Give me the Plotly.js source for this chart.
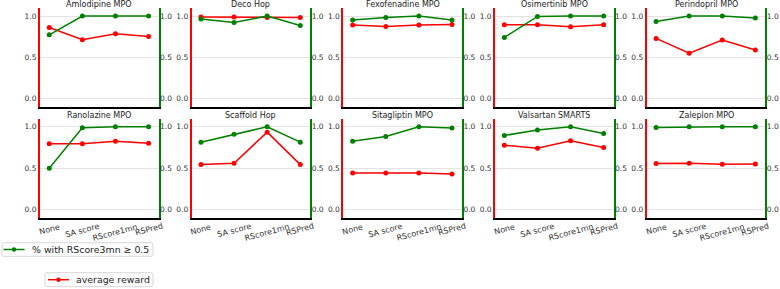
<!DOCTYPE html>
<html><head><meta charset="utf-8">
<script src="https://cdn.plot.ly/plotly-3.0.1.min.js"></script>
<style>html,body{margin:0;padding:0;background:#fff}#chart{width:780px;height:289px}</style>
</head><body><div id="chart"></div>
<script>
const categories = ['None', 'SA score', 'RScore1mn', 'RSPred'];
const yTickVals = [0, 0.5, 1.0];
const yTickText = ['0.0', '0.5', '1.0'];
const panelTitles = ['Amlodipine MPO', 'Deco Hop', 'Fexofenadine MPO', 'Osimertinib MPO', 'Perindopril MPO',
                     'Ranolazine MPO', 'Scaffold Hop', 'Sitagliptin MPO', 'Valsartan SMARTS', 'Zaleplon MPO'];
const pctName = '% with RScore3mn ≥ 0.5';
const rewardName = 'average reward';

// % with RScore3mn >= 0.5 (green, right axis)
const amlodipinePct   = [0.774, 1.0, 1.0, 1.0];
const decoHopPct      = [0.964, 0.923, 1.0, 0.887];
const fexofenadinePct = [0.952, 0.984, 1.0, 0.952];
const osimertinibPct  = [0.742, 0.995, 1.0, 1.0];
const perindoprilPct  = [0.935, 1.0, 1.0, 0.976];
const ranolazinePct   = [0.498, 0.988, 1.0, 1.0];
const scaffoldHopPct  = [0.814, 0.911, 1.0, 0.814];
const sitagliptinPct  = [0.826, 0.883, 1.0, 0.984];
const valsartanPct    = [0.895, 0.960, 1.0, 0.919];
const zaleplonPct     = [0.992, 1.0, 1.0, 1.0];

// average reward (red, left axis)
const amlodipineReward   = [0.862, 0.713, 0.786, 0.753];
const decoHopReward      = [0.988, 0.988, 0.984, 0.984];
const fexofenadineReward = [0.891, 0.875, 0.891, 0.899];
const osimertinibReward  = [0.895, 0.895, 0.872, 0.895];
const perindoprilReward  = [0.730, 0.552, 0.710, 0.589];
const ranolazineReward   = [0.794, 0.794, 0.826, 0.802];
const scaffoldHopReward  = [0.543, 0.559, 0.935, 0.543];
const sitagliptinReward  = [0.441, 0.441, 0.441, 0.429];
const valsartanReward    = [0.777, 0.741, 0.830, 0.749];
const zaleplonReward     = [0.555, 0.559, 0.547, 0.551];

const pctSeries = [amlodipinePct, decoHopPct, fexofenadinePct, osimertinibPct, perindoprilPct,
                   ranolazinePct, scaffoldHopPct, sitagliptinPct, valsartanPct, zaleplonPct];
const rewardSeries = [amlodipineReward, decoHopReward, fexofenadineReward, osimertinibReward, perindoprilReward,
                      ranolazineReward, scaffoldHopReward, sitagliptinReward, valsartanReward, zaleplonReward];

const W = 780, H = 289;
const GREEN = '#008000', RED = '#ff0000';
const colLeft = c => 40 + c * 151.7;
const plotW = 118.5;
const rowTop = [7.8, 118.5];
const plotH = 99.3;
const px2x = p => p / W;
const px2y = p => 1 - p / H;

const data = [];
const layout = {
  width: W, height: H,
  margin: {l: 0, r: 0, t: 0, b: 0, autoexpand: false},
  paper_bgcolor: '#fff', plot_bgcolor: '#fff',
  font: {family: 'DejaVu Sans', size: 7.5, color: '#333'},
  showlegend: false,
  annotations: [],
  shapes: []
};

for (let i = 0; i < 10; i++) {
  const row = i < 5 ? 0 : 1, col = i % 5;
  const xn = i + 1, yl = i + 1, yr = i + 11;
  const xk = xn === 1 ? 'x' : 'x' + xn;
  const ylk = yl === 1 ? 'y' : 'y' + yl;
  const yrk = 'y' + yr;
  const x0 = px2x(colLeft(col)), x1 = px2x(colLeft(col) + plotW);
  const yTopPx = rowTop[row], yBotPx = rowTop[row] + plotH;
  const d0 = px2y(yBotPx), d1 = px2y(yTopPx);

  layout['xaxis' + (xn === 1 ? '' : xn)] = {
    domain: [x0, x1], anchor: ylk, type: 'category', range: [-0.28, 3.3],
    showline: true, linecolor: '#000', linewidth: 2, showgrid: false,
    zeroline: false, showticklabels: false, ticks: '', fixedrange: true
  };
  layout['yaxis' + (yl === 1 ? '' : yl)] = {
    domain: [d0, d1], anchor: xk, range: [-0.1, 1.1],
    tickvals: yTickVals, ticktext: yTickText, tickfont: {size: 7.5, color: '#333'},
    ticks: '', showline: true, linecolor: RED, linewidth: 2,
    showgrid: true, gridcolor: '#e3e3e3', gridwidth: 1, zeroline: false
  };
  layout['yaxis' + yr] = {
    overlaying: ylk, anchor: xk, side: 'right', range: [-0.1, 1.1],
    tickvals: yTickVals, ticktext: yTickText, tickfont: {size: 7.5, color: '#333'},
    ticks: '', ticklabelstandoff: -2, showline: true, linecolor: GREEN, linewidth: 2,
    showgrid: false, zeroline: false
  };

  data.push({
    type: 'scatter', mode: 'lines+markers', x: categories, y: rewardSeries[i],
    xaxis: xk, yaxis: ylk, name: rewardName,
    line: {color: RED, width: 1.5}, marker: {color: RED, size: 5}
  });
  data.push({
    type: 'scatter', mode: 'lines+markers', x: categories, y: pctSeries[i],
    xaxis: xk, yaxis: yrk, name: pctName,
    line: {color: GREEN, width: 1.5}, marker: {color: GREEN, size: 5}
  });

  layout.annotations.push({
    text: panelTitles[i], xref: 'paper', yref: 'paper',
    x: (x0 + x1) / 2, y: px2y(yTopPx - 3.4), xanchor: 'center', yanchor: 'middle',
    showarrow: false, font: {size: 8, color: '#222'}, borderpad: 0
  });

  if (row === 1) {
    categories.forEach((c, j) => {
      layout.annotations.push({
        text: c, xref: xk, yref: 'paper', x: j, y: px2y(yBotPx + 3),
        xanchor: 'center', yanchor: 'top', textangle: -15, borderpad: 0,
        showarrow: false, font: {size: 8, color: '#333'}
      });
    });
  }
}

// Two separate legend boxes (as in the reference)
function roundRect(xa, ya, xb, yb, r) {
  const X = v => px2x(v), Y = v => px2y(v);
  return {
    type: 'path', xref: 'paper', yref: 'paper',
    path: `M ${X(xa + r)} ${Y(ya)} L ${X(xb - r)} ${Y(ya)} Q ${X(xb)} ${Y(ya)} ${X(xb)} ${Y(ya + r)} ` +
          `L ${X(xb)} ${Y(yb - r)} Q ${X(xb)} ${Y(yb)} ${X(xb - r)} ${Y(yb)} L ${X(xa + r)} ${Y(yb)} ` +
          `Q ${X(xa)} ${Y(yb)} ${X(xa)} ${Y(yb - r)} L ${X(xa)} ${Y(ya + r)} Q ${X(xa)} ${Y(ya)} ${X(xa + r)} ${Y(ya)} Z`,
    line: {color: '#d6d6d6', width: 1}, fillcolor: 'rgba(255,255,255,0.8)', layer: 'above'
  };
}
const legendEntries = [
  {name: pctName, color: GREEN, box: [2, 242.7, 153, 256.3], lineX: [3.5, 24.5], textX: 31, cy: 249.5},
  {name: rewardName, color: RED, box: [45, 272.7, 153, 286.7], lineX: [48, 69], textX: 75, cy: 279.7}
];
legendEntries.forEach(e => {
  layout.shapes.push(roundRect(e.box[0], e.box[1], e.box[2], e.box[3], 2));
  layout.shapes.push({type: 'line', xref: 'paper', yref: 'paper', layer: 'above',
    x0: px2x(e.lineX[0]), x1: px2x(e.lineX[1]), y0: px2y(e.cy), y1: px2y(e.cy),
    line: {color: e.color, width: 1.5}});
  const mx = (e.lineX[0] + e.lineX[1]) / 2;
  layout.shapes.push({type: 'circle', xref: 'paper', yref: 'paper', layer: 'above',
    x0: px2x(mx - 2.2), x1: px2x(mx + 2.2), y0: px2y(e.cy + 2.2), y1: px2y(e.cy - 2.2),
    fillcolor: e.color, line: {color: e.color, width: 0}});
  layout.annotations.push({text: e.name, xref: 'paper', yref: 'paper',
    x: px2x(e.textX), y: px2y(e.cy), xanchor: 'left', yanchor: 'middle', borderpad: 0,
    showarrow: false, font: {size: 9.4, color: '#222'}});
});

Plotly.newPlot('chart', data, layout, {staticPlot: true, displayModeBar: false});
</script></body></html>
